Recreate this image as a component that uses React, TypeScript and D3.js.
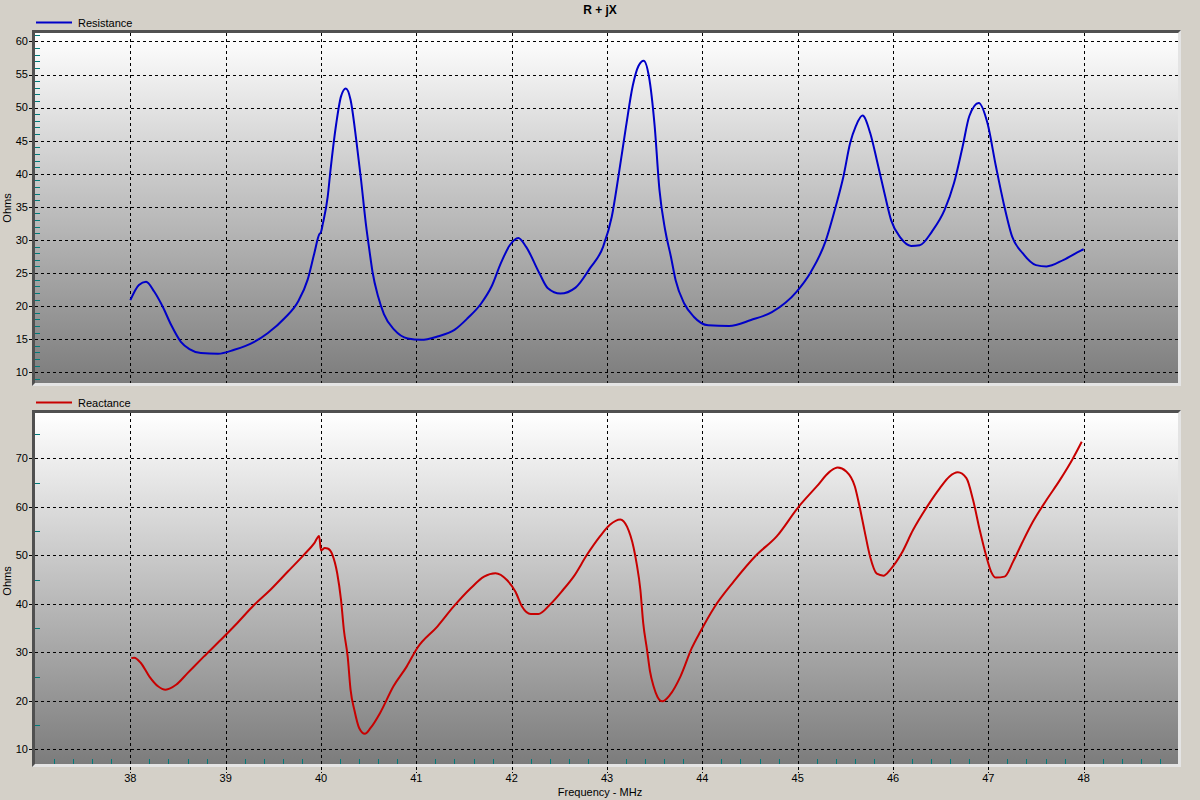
import React from 'react'
import * as d3 from 'd3'

// resistance trace (MHz / ohms)
const resistanceFreq = [
  38.0, 38.09, 38.165, 38.25, 38.34, 38.43, 38.53, 38.62, 38.74, 38.92,
  39.09, 39.3, 39.44, 39.62, 39.76, 39.86, 39.93, 39.98, 40.0, 40.02,
  40.07, 40.1, 40.16, 40.21, 40.26, 40.31, 40.37, 40.42, 40.47, 40.51,
  40.54, 40.6, 40.66, 40.77, 40.91, 41.05, 41.22, 41.4, 41.54, 41.68,
  41.79, 41.89, 41.98, 42.07, 42.15, 42.29, 42.38, 42.51, 42.67, 42.82,
  42.96, 43.05, 43.12, 43.2, 43.27, 43.33, 43.385, 43.44, 43.5, 43.55,
  43.61, 43.67, 43.72, 43.81, 43.91, 44.06, 44.28, 44.51, 44.73, 44.99,
  45.14, 45.29, 45.4, 45.48, 45.55, 45.61, 45.68, 45.76, 45.83, 45.91,
  45.98, 46.08, 46.19, 46.28, 46.41, 46.54, 46.64, 46.73, 46.8, 46.9,
  46.99, 47.08, 47.16, 47.25, 47.36, 47.5, 47.61, 47.79, 47.97, 48.0
]
const resistanceOhms = [
  20.9, 23.2, 23.7, 22.2, 19.9, 17.1, 14.6, 13.5, 12.9, 12.8,
  13.4, 14.6, 15.9, 18.2, 20.7, 24.0, 28.0, 30.8, 31.2, 32.5,
  36.5, 40.6, 47.6, 51.7, 52.9, 51.2, 45.1, 39.1, 32.5, 28.2,
  25.2, 21.4, 18.8, 16.4, 15.1, 14.9, 15.4, 16.4, 18.2, 20.4,
  23.0, 26.6, 29.2, 30.3, 29.0, 25.0, 22.7, 21.9, 22.8, 25.7,
  29.0, 33.5, 39.6, 47.2, 53.3, 56.3, 57.1, 54.7, 47.2, 37.6,
  31.5, 27.5, 23.9, 20.4, 18.4, 17.1, 17.0, 17.9, 19.1, 22.2,
  25.2, 29.7, 35.1, 39.6, 44.6, 47.2, 48.8, 46.2, 42.1, 37.1,
  33.0, 30.3, 29.1, 29.2, 31.3, 34.5, 38.6, 44.1, 48.7, 50.7,
  47.7, 41.1, 35.6, 30.5, 28.0, 26.2, 26.0, 27.0, 28.4, 28.6
]

// reactance trace (MHz / ohms)
const reactanceFreq = [
  38.01, 38.04, 38.11, 38.2, 38.29, 38.37, 38.48, 38.6, 38.77, 38.95,
  39.12, 39.3, 39.47, 39.65, 39.82, 39.93, 39.98, 40.0, 40.04, 40.07,
  40.12, 40.17, 40.21, 40.24, 40.28, 40.31, 40.35, 40.4, 40.46, 40.52,
  40.62, 40.76, 40.9, 41.01, 41.22, 41.39, 41.57, 41.71, 41.83, 41.95,
  42.04, 42.11, 42.2, 42.28, 42.4, 42.54, 42.65, 42.79, 42.93, 43.03,
  43.14, 43.21, 43.28, 43.31, 43.35, 43.38, 43.42, 43.45, 43.49, 43.53,
  43.58, 43.66, 43.77, 43.89, 43.98, 44.12, 44.33, 44.57, 44.78, 45.01,
  45.2, 45.34, 45.42, 45.51, 45.6, 45.65, 45.7, 45.76, 45.83, 45.9,
  45.97, 46.09, 46.21, 46.37, 46.49, 46.59, 46.68, 46.77, 46.84, 46.91,
  46.98, 47.03, 47.08, 47.17, 47.26, 47.36, 47.47, 47.61, 47.75, 47.88,
  47.98
]
const reactanceOhms = [
  28.8, 28.9, 27.8, 25.0, 23.0, 22.3, 23.3, 25.7, 29.1, 32.6,
  36.0, 39.8, 42.9, 46.6, 50.1, 52.5, 54.0, 51.0, 51.5, 51.4,
  50.1, 46.3, 40.8, 34.6, 29.1, 22.3, 18.1, 14.4, 13.2, 14.4,
  17.5, 23.0, 27.1, 30.9, 35.3, 39.4, 43.2, 45.6, 46.3, 44.9,
  42.5, 39.4, 37.9, 37.9, 39.8, 42.9, 45.6, 50.1, 54.0, 56.3,
  57.4, 55.9, 51.5, 48.4, 42.9, 36.0, 30.5, 26.2, 22.9, 20.8,
  19.9, 21.2, 25.0, 30.9, 34.3, 39.1, 44.6, 50.1, 53.9, 60.0,
  64.2, 67.3, 68.1, 67.3, 64.2, 60.0, 55.2, 49.7, 46.2, 45.8,
  47.0, 50.4, 55.2, 60.4, 63.8, 66.2, 67.1, 65.9, 61.4, 55.2,
  49.7, 46.6, 45.4, 45.6, 48.7, 52.8, 57.0, 61.4, 65.5, 69.7,
  73.4
]

const freqTicks = [38, 39, 40, 41, 42, 43, 44, 45, 46, 47, 48]
const resistanceTicks = [10, 15, 20, 25, 30, 35, 40, 45, 50, 55, 60]
const reactanceTicks = [10, 20, 30, 40, 50, 60, 70]

const W = 1200
const H = 800
const FONT = '"Liberation Sans", Arial, sans-serif'
const BG = '#D4D0C8'
const TEAL = '#007B7B'

const x = d3.scaleLinear().domain([37, 49]).range([35, 1179])
const xMinor = d3.range(37.2, 48.9, 0.2).filter(v => Math.abs(v - Math.round(v)) > 0.01)

interface PanelProps {
  id: string
  top: number
  bottom: number
  domain: [number, number]
  ticks: number[]
  minorStep: number
  freq: number[]
  ohms: number[]
  color: string
  label: string
  ohmsY: number
  showX?: boolean
}

const Panel: React.FC<PanelProps> = ({
  id, top, bottom, domain, ticks, minorStep, freq, ohms, color, label, ohmsY, showX
}) => {
  const left = 35
  const right = 1178
  const y = d3.scaleLinear().domain(domain).range([bottom, top])
  const minor = d3.range(Math.ceil(domain[0] / minorStep) * minorStep, domain[1], minorStep)
    .filter(v => !ticks.includes(Math.round(v * 100) / 100))

  const line = d3.line<number>()
    .x((_, i) => x(freq[i]))
    .y(d => y(d))
    .curve(d3.curveMonotoneX)

  return (
    <g>
      <defs>
        <linearGradient id={`bg-${id}`} x1="0" y1="0" x2="0" y2="1">
          <stop offset="0%" stopColor="#ffffff" />
          <stop offset="100%" stopColor="#7c7c7c" />
        </linearGradient>
        <clipPath id={`clip-${id}`}>
          <rect x={left} y={top} width={right - left} height={bottom - top} />
        </clipPath>
      </defs>

      {/* sunken frame */}
      <rect x={left - 3} y={top - 3} width={right - left + 6} height={bottom - top + 6} fill="#e4e4e4" />
      <path d={`M${left - 3},${bottom + 3}V${top - 3}H${right + 3}L${right},${top}H${left}V${bottom}Z`} fill="#505050" />
      <rect x={left} y={top} width={right - left} height={bottom - top} fill={`url(#bg-${id})`} />

      {/* grid */}
      <g stroke="#000" strokeWidth={1} strokeDasharray="3,3" shapeRendering="crispEdges">
        {ticks.map(t => (
          <line key={`h${t}`} x1={left} x2={right} y1={Math.round(y(t)) + 0.5} y2={Math.round(y(t)) + 0.5} />
        ))}
        {freqTicks.map(f => (
          <line key={`v${f}`} x1={Math.round(x(f)) + 0.5} x2={Math.round(x(f)) + 0.5} y1={top} y2={bottom} />
        ))}
      </g>

      {/* minor ticks */}
      <g stroke={TEAL} strokeWidth={1} shapeRendering="crispEdges">
        {minor.map(v => (
          <line key={`m${v}`} x1={left} x2={left + 5} y1={Math.round(y(v)) + 0.5} y2={Math.round(y(v)) + 0.5} />
        ))}
        {showX && xMinor.map(f => (
          <line key={`xm${f}`} x1={Math.round(x(f)) + 0.5} x2={Math.round(x(f)) + 0.5} y1={bottom - 5} y2={bottom} />
        ))}
      </g>

      {/* y axis */}
      <g fontFamily={FONT} fontSize={11} fill="#000">
        {ticks.map(t => (
          <g key={`yt${t}`}>
            <line x1={29} x2={32} y1={Math.round(y(t)) + 0.5} y2={Math.round(y(t)) + 0.5} stroke="#000" shapeRendering="crispEdges" />
            <text x={28} y={y(t)} dy="0.35em" textAnchor="end">{t}</text>
          </g>
        ))}
        <text transform={`translate(11,${ohmsY}) rotate(-90)`} textAnchor="middle">Ohms</text>
      </g>

      {/* x axis */}
      {showX && (
        <g fontFamily={FONT} fontSize={11} fill="#000">
          {freqTicks.map(f => (
            <g key={`xt${f}`}>
              <line x1={Math.round(x(f)) + 0.5} x2={Math.round(x(f)) + 0.5} y1={bottom + 3} y2={bottom + 9} stroke="#000" strokeDasharray="3,2" shapeRendering="crispEdges" />
              <text x={x(f)} y={782} textAnchor="middle">{f}</text>
            </g>
          ))}
        </g>
      )}

      {/* trace */}
      <path d={line(ohms) || ''} fill="none" stroke={color} strokeWidth={2} strokeLinejoin="round" clipPath={`url(#clip-${id})`} />

      {/* legend */}
      <line x1={36} x2={72} y1={top - 10.5} y2={top - 10.5} stroke={color} strokeWidth={2} />
      <text x={78} y={top - 6.5} fontFamily={FONT} fontSize={11} fill="#000">{label}</text>
    </g>
  )
}

const App: React.FC = () => {
  return (
    <svg
      width={W}
      height={H}
      viewBox={`0 0 ${W} ${H}`}
      style={{ position: 'absolute', left: 0, top: 0, display: 'block' }}
    >
      <rect width={W} height={H} fill={BG} />
      <text x={600} y={13.5} textAnchor="middle" fontFamily={FONT} fontSize={12} fontWeight="bold" fill="#000">R + jX</text>

      <Panel
        id="res"
        top={33}
        bottom={383}
        domain={[8.38, 61.28]}
        ticks={resistanceTicks}
        minorStep={1}
        freq={resistanceFreq}
        ohms={resistanceOhms}
        color="#0000C8"
        label="Resistance"
        ohmsY={208}
      />
      <Panel
        id="rea"
        top={413}
        bottom={764}
        domain={[6.97, 79.34]}
        ticks={reactanceTicks}
        minorStep={5}
        freq={reactanceFreq}
        ohms={reactanceOhms}
        color="#C80000"
        label="Reactance"
        ohmsY={581}
        showX
      />

      <text x={600} y={796} textAnchor="middle" fontFamily={FONT} fontSize={11} fill="#000">Frequency - MHz</text>
    </svg>
  )
}

export default App
